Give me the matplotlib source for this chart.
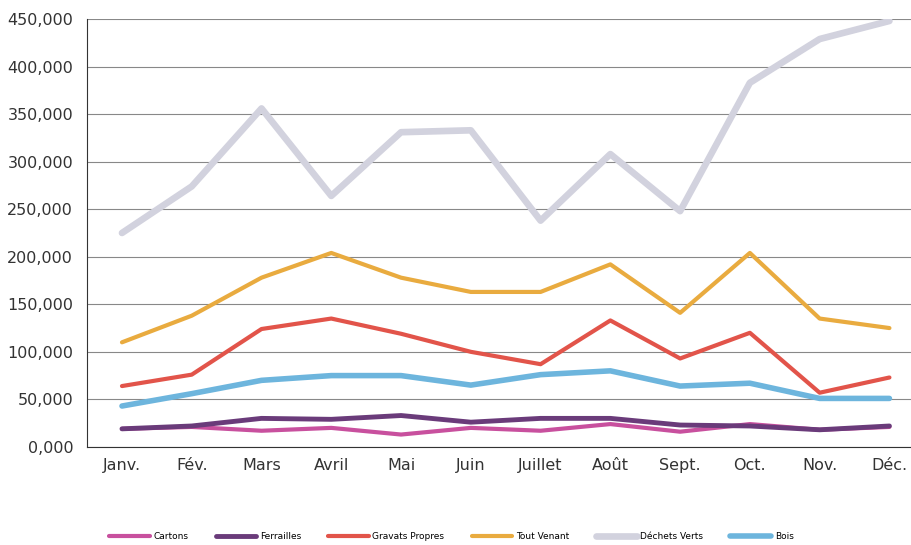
import numpy as np
import matplotlib.pyplot as plt
from matplotlib.ticker import FuncFormatter

# Mois et tonnages
mois = ['Janv.', 'Fév.', 'Mars', 'Avril', 'Mai', 'Juin', 'Juillet', 'Août',
        'Sept.', 'Oct.', 'Nov.', 'Déc.']

cartons = [19, 21, 17, 20, 13, 20, 17, 24, 16, 24, 18, 21]
ferrailles = [19, 22, 30, 29, 33, 26, 30, 30, 23, 22, 18, 22]
gravats = [64, 76, 124, 135, 119, 100, 87, 133, 93, 120, 57, 73]
tout_venant = [110, 138, 178, 204, 178, 163, 163, 192, 141, 204, 135, 125]
dechets_verts = [225, 274, 356, 264, 331, 333, 238, 308, 248, 383, 429, 448]
bois = [43, 56, 70, 75, 75, 65, 76, 80, 64, 67, 51, 51]

series = [
    ('Cartons', cartons, '#c8509e', 3.0),
    ('Ferrailles', ferrailles, '#6a3b7a', 3.5),
    ('Gravats Propres', gravats, '#e2544a', 3.0),
    ('Tout Venant', tout_venant, '#e9ab3f', 3.0),
    ('Déchets Verts', dechets_verts, '#d2d2de', 4.8),
    ('Bois', bois, '#6db5dd', 4.0),
]

fig = plt.figure(figsize=(9.12, 5.45), dpi=100)
# le scan coupe le graphique à droite : l'axe dépasse un peu de la figure
ax = fig.add_axes([0.0955, 0.18, 0.918, 0.785])

x = np.arange(len(mois))
for nom, val, coul, lw in series:
    ax.plot(x, np.array(val) * 1000, color=coul, lw=lw, label=nom,
            solid_capstyle='round', solid_joinstyle='round')

ax.set_xlim(-0.5, len(mois) - 0.5)
ax.set_ylim(0, 450000)
ax.set_yticks(np.arange(0, 450001, 50000))
ax.yaxis.set_major_formatter(FuncFormatter(lambda v, p: '{:,.0f}'.format(v / 1000) + ',000'))
ax.set_xticks(x)
ax.set_xticklabels(mois)
ax.tick_params(axis='both', labelsize=11.5, length=0, colors='#333333')
ax.tick_params(axis='x', pad=8)
ax.tick_params(axis='y', pad=10)

ax.grid(axis='y', color='#888888', lw=0.8)
ax.set_axisbelow(True)
for s in ['top', 'right']:
    ax.spines[s].set_visible(False)
ax.spines['left'].set_color('#333333')
ax.spines['bottom'].set_color('#333333')

fig.legend(loc='lower center', bbox_to_anchor=(0.495, -0.008), ncol=6, frameon=False,
           fontsize=6.5, handlelength=4.5, columnspacing=3.0, handletextpad=0.4)

fig.savefig('out.png', dpi=100)
